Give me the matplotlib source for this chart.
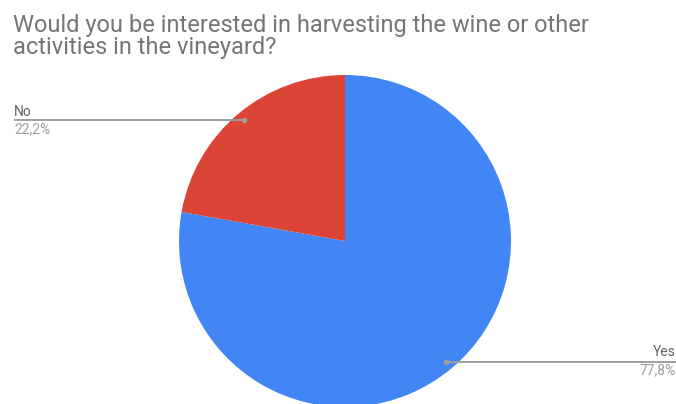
import matplotlib
matplotlib.use('Agg')
import matplotlib.pyplot as plt
import numpy as np

plt.rcParams['font.family'] = ['Roboto', 'DejaVu Sans']

title_lines = ["Would you be interested in harvesting the wine or other",
               "activities in the vineyard?"]
labels = ['Yes', 'No']
shares = [77.8, 22.2]
colors = ['#4285F4', '#DB4437']

W, H = 676, 404
fig = plt.figure(figsize=(W / 100, H / 100), dpi=100)
ax = fig.add_axes([0, 0, 1, 1])

cx, cy, r = 345, H - 241, 166
wedges, _ = ax.pie(shares, colors=colors, startangle=90, counterclock=False,
                   center=(cx, cy), radius=r, frame=True,
                   wedgeprops=dict(linewidth=0))
ax.set_xlim(0, W)
ax.set_ylim(0, H)
ax.set_aspect('equal')
ax.axis('off')

# leader lines from the middle of each slice out to the edge of the figure
for w, lab, val in zip(wedges, labels, shares):
    mid = np.deg2rad((w.theta1 + w.theta2) / 2)
    px = cx + 0.95 * r * np.cos(mid)
    py = cy + 0.95 * r * np.sin(mid)
    pct = f"{val:.1f}%".replace('.', ',')
    if np.cos(mid) < 0:
        ax.plot([14, px], [py, py], color='#9e9e9e', lw=1.4, solid_capstyle='butt')
        ax.text(14, py + 4.5, lab, ha='left', va='baseline', fontsize=10, color='#616161')
        ax.text(14, py - 13, pct, ha='left', va='baseline', fontsize=10, color='#9e9e9e')
    else:
        ax.plot([px, W], [py, py], color='#9e9e9e', lw=1.4, solid_capstyle='butt')
        ax.text(W - 0.5, py + 5.5, lab, ha='right', va='baseline', fontsize=10, color='#616161')
        ax.text(W - 0.5, py - 12.5, pct, ha='right', va='baseline', fontsize=10, color='#9e9e9e')
    ax.plot([px], [py], 'o', ms=4, color='#9e9e9e', mec='none')

for i, line in enumerate(title_lines):
    ax.text(13, H - 31.7 - 22.6 * i, line, ha='left', va='baseline',
            fontsize=17, color='#757575')

fig.savefig('out.png', dpi=100)
